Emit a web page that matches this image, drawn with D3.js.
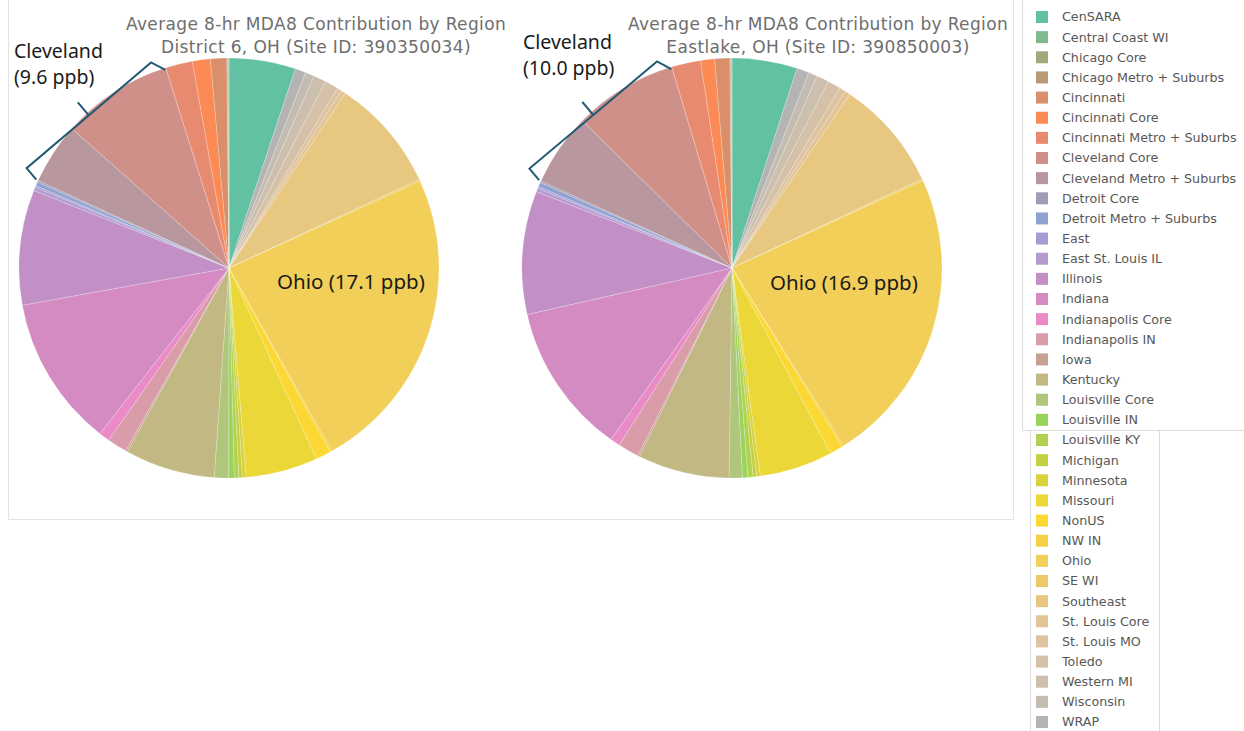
<!DOCTYPE html>
<html>
<head>
<meta charset="utf-8">
<script src="https://cdn.jsdelivr.net/npm/d3@7"></script>
<style>
  html, body { margin: 0; padding: 0; background: #ffffff; }
  svg { display: block; }
</style>
</head>
<body>
<svg id="chart" width="1244" height="731"></svg>
<script>
// Source regions, in legend order
const regions = [
  "CenSARA", "Central Coast WI", "Chicago Core", "Chicago Metro + Suburbs",
  "Cincinnati", "Cincinnati Core", "Cincinnati Metro + Suburbs", "Cleveland Core",
  "Cleveland Metro + Suburbs", "Detroit Core", "Detroit Metro + Suburbs", "East",
  "East St. Louis IL", "Illinois", "Indiana", "Indianapolis Core", "Indianapolis IN",
  "Iowa", "Kentucky", "Louisville Core", "Louisville IN", "Louisville KY", "Michigan",
  "Minnesota", "Missouri", "NonUS", "NW IN", "Ohio", "SE WI", "Southeast",
  "St. Louis Core", "St. Louis MO", "Toledo", "Western MI", "Wisconsin", "WRAP"
];

const regionColors = [
  "#62c1a2", "#7fb98f", "#a3a77c", "#b99a74",
  "#d98f6a", "#fb8a55", "#e88a70", "#d0908a",
  "#b8979f", "#a39bb6", "#8ea2d2", "#a69bd2",
  "#b39bd0", "#c290c6", "#d48bc1", "#ea8ac6", "#d99ca9",
  "#c9a190", "#c1b883", "#b0c67a", "#98d35a", "#b2d24f", "#c3d140",
  "#d8d23e", "#ebd838", "#fbd833", "#f6d044", "#f1cf58", "#ecca6a", "#e8c880",
  "#e3c497", "#ddc3a0", "#d5c0a8", "#ccbfad", "#c4bcb1", "#b4b4b4"
];

// Average MDA8 contribution (ppb), District 6, OH (Site ID: 390350034)
const district6Values = [
  3.7, 0.02, 0.05, 0.05,
  0.9, 1.0, 1.5, 6.2,
  3.4, 0.1, 0.2, 0.1,
  0.2, 6.4, 8.4, 0.6, 1.1,
  0.1, 5.0, 0.8, 0.3, 0.25, 0.2,
  0.2, 4.0, 0.85, 0.1, 17.1, 0.1, 6.3,
  0.25, 0.25, 0.75, 0.7, 0.5, 0.6
];

// Average MDA8 contribution (ppb), Eastlake, OH (Site ID: 390850003)
const eastlakeValues = [
  3.7, 0.02, 0.05, 0.05,
  0.85, 0.8, 1.65, 5.9,
  4.1, 0.1, 0.25, 0.1,
  0.2, 7.0, 8.6, 0.55, 1.2,
  0.1, 5.2, 0.75, 0.3, 0.3, 0.2,
  0.2, 4.15, 0.75, 0.1, 16.9, 0.1, 6.3,
  0.3, 0.35, 0.75, 0.7, 0.5, 0.7
];

const titleLine1 = "Average 8-hr MDA8 Contribution by Region";

const panels = [
  {
    subtitle: "District 6, OH (Site ID: 390350034)",
    values: district6Values,
    cx: 229, cy: 268, r: 210,
    titleX: 316,
    ohioLabel: { x: 277, y: 289 },
    clevelandLabel: { x: 14, y: 58 }
  },
  {
    subtitle: "Eastlake, OH (Site ID: 390850003)",
    values: eastlakeValues,
    cx: 732, cy: 268, r: 210,
    titleX: 818,
    ohioLabel: { x: 770, y: 290 },
    clevelandLabel: { x: 523, y: 49 }
  }
];

const svg = d3.select("#chart");
const fmt = d3.format(".1f");

// Slices run clockwise from 12 o'clock: CenSARA first, then the rest in reverse legend order
const sliceOrder = [0].concat(d3.range(regions.length - 1, 0, -1));
const color = d3.scaleOrdinal().domain(regions).range(regionColors);

// Frame around the two pies
svg.append("path")
  .attr("d", "M8.5,0 V519.5 H1013.5 V0")
  .attr("fill", "none")
  .attr("stroke", "#e3e3e3")
  .attr("stroke-width", 1);

panels.forEach(p => {
  const rows = sliceOrder.map(i => ({ region: regions[i], value: p.values[i] }));
  const pie = d3.pie().sort(null).value(d => d.value);
  const arcs = pie(rows);
  const arc = d3.arc().innerRadius(0).outerRadius(p.r);

  const g = svg.append("g").attr("transform", `translate(${p.cx},${p.cy})`);
  g.selectAll("path.slice")
    .data(arcs)
    .join("path")
    .attr("class", "slice")
    .attr("d", arc)
    .attr("fill", d => color(d.data.region))
    .attr("stroke", "#ffffff")
    .attr("stroke-opacity", 0.35)
    .attr("stroke-width", 0.6);

  // Titles
  const title = svg.append("g")
    .attr("font-family", "'DejaVu Sans', sans-serif")
    .attr("font-size", 17)
    .attr("letter-spacing", 0.35)
    .attr("fill", "#6e6e6e")
    .attr("text-anchor", "middle");
  title.append("text").attr("x", p.titleX).attr("y", 30).text(titleLine1);
  title.append("text").attr("x", p.titleX).attr("y", 53).text(p.subtitle);

  // Ohio label inside its slice
  const ohioValue = p.values[regions.indexOf("Ohio")];
  svg.append("text")
    .attr("x", p.ohioLabel.x).attr("y", p.ohioLabel.y)
    .attr("font-family", "'Noto Sans', sans-serif")
    .attr("font-size", 20.5)
    .attr("fill", "#1a1a1a")
    .text(`Ohio (${fmt(ohioValue)} ppb)`);

  // Cleveland = Core + Metro + Suburbs, bracketed along the rim
  const clevelandNames = ["Cleveland Core", "Cleveland Metro + Suburbs"];
  const clevelandArcs = arcs.filter(a => clevelandNames.includes(a.data.region));
  const clevelandTotal = d3.sum(clevelandArcs, a => a.data.value);
  const a0 = d3.min(clevelandArcs, a => a.startAngle);
  const a1 = d3.max(clevelandArcs, a => a.endAngle);
  const pt = (a, rr) => [p.cx + rr * Math.sin(a), p.cy - rr * Math.cos(a)];
  const inA = pt(a0, p.r + 2), inB = pt(a1 - 0.005, p.r - 2);
  // unit vector along the chord and its outward normal
  const chord = Math.hypot(inB[0] - inA[0], inB[1] - inA[1]);
  const tx = (inB[0] - inA[0]) / chord, ty = (inB[1] - inA[1]) / chord;
  let nx = ty, ny = -tx;
  const mx = (inA[0] + inB[0]) / 2 - p.cx, my = (inA[1] + inB[1]) / 2 - p.cy;
  if (nx * mx + ny * my < 0) { nx = -nx; ny = -ny; }
  const lift = 15;
  const outA = [inA[0] + nx * lift, inA[1] + ny * lift];
  const outB = [inB[0] + nx * lift - tx * 6, inB[1] + ny * lift - ty * 6];
  const mid = [(outA[0] + outB[0]) / 2, (outA[1] + outB[1]) / 2];
  const notch = [mid[0] + nx * 17, mid[1] + ny * 17];
  const bracket = d3.path();
  bracket.moveTo(...inA); bracket.lineTo(...outA); bracket.lineTo(...outB); bracket.lineTo(...inB);
  bracket.moveTo(...mid); bracket.lineTo(...notch);
  svg.append("path")
    .attr("d", bracket.toString())
    .attr("fill", "none")
    .attr("stroke", "#215a73")
    .attr("stroke-width", 2)
    .attr("stroke-linejoin", "miter");

  const cl = svg.append("g")
    .attr("font-family", "'Noto Sans', sans-serif")
    .attr("font-size", 19.5)
    .attr("fill", "#1a1a1a");
  cl.append("text").attr("x", p.clevelandLabel.x).attr("y", p.clevelandLabel.y).text("Cleveland");
  cl.append("text").attr("x", p.clevelandLabel.x).attr("y", p.clevelandLabel.y + 26).text(`(${fmt(clevelandTotal)} ppb)`);
});

// Legend, split across two boxes
const legendBorders = svg.append("g").attr("fill", "none").attr("stroke", "#dcdcdc").attr("stroke-width", 1);
legendBorders.append("path").attr("d", "M1022.5,0 V430.5 H1244");
legendBorders.append("path").attr("d", "M1030.5,430.5 V731 M1159.5,430.5 V731");

const legendY = d3.scalePoint().domain(regions).range([17, 722]);
const legend = svg.append("g")
  .attr("font-family", "'DejaVu Sans', sans-serif")
  .attr("font-size", 12.7)
  .attr("fill", "#575757");
const item = legend.selectAll("g.item")
  .data(regions)
  .join("g")
  .attr("class", "item")
  .attr("transform", d => `translate(0,${legendY(d)})`);
item.append("rect")
  .attr("x", 1036).attr("y", -6)
  .attr("width", 12).attr("height", 12)
  .attr("fill", d => color(d));
item.append("text")
  .attr("x", 1062).attr("y", 0)
  .attr("dy", "0.35em")
  .text(d => d);
</script>
</body>
</html>
